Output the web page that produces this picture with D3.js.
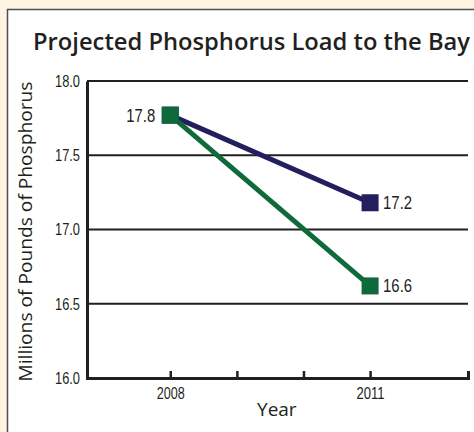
<!DOCTYPE html>
<html>
<head>
<meta charset="utf-8">
<script src="https://d3js.org/d3.v7.min.js"></script>
<style>
  body { margin: 0; background: #fdf5e1; }
  svg { display: block; }
</style>
</head>
<body>
<div id="chart"></div>
<script>
// data
const years = [2008, 2011];
const seriesNames = ["current", "projected"];
const currentLoad = [17.77, 17.18];
const projectedLoad = [17.77, 16.62];
const yTicks = [16.0, 16.5, 17.0, 17.5, 18.0];
const xTicks = [2008, 2009, 2010, 2011];
const xTickLabels = ["2008", "", "", "2011"];
const colors = ["#231f5f", "#0e6a3a"];

const W = 474, H = 432;
const margin = {top: 81, right: 6, bottom: 54, left: 87};
const width = W - margin.left - margin.right,
    height = H - margin.top - margin.bottom;

const svg = d3.select("#chart").append("svg")
    .attr("width", W)
    .attr("height", H);

// panel
svg.append("rect")
    .attr("x", 7.5).attr("y", 9.5)
    .attr("width", W).attr("height", H)
    .attr("fill", "#fff")
    .attr("stroke", "#4d4d4f")
    .attr("stroke-width", 1.5);

svg.append("text")
    .attr("x", 33).attr("y", 50)
    .attr("font-family", "'Open Sans', sans-serif")
    .attr("font-weight", 600)
    .attr("font-size", 22.5)
    .attr("textLength", 437)
    .attr("lengthAdjust", "spacingAndGlyphs")
    .attr("fill", "#231f20")
    .text("Projected Phosphorus Load to the Bay");

const g = svg.append("g")
    .attr("transform", "translate(" + margin.left + "," + margin.top + ")");

let x = d3.scaleLinear()
    .domain([2006.75, 2012.47])
    .range([0, width]);

let y = d3.scaleLinear()
    .domain([16, 18])
    .range([height, 0]);

const narrow = "'Liberation Sans', sans-serif";

// squeeze a text horizontally to a target width so it looks condensed
function condense(sel, w) {
    sel.attr("textLength", w).attr("lengthAdjust", "spacingAndGlyphs");
}

// gridlines
g.append("g")
    .selectAll("line")
    .data(yTicks.filter(d => d > 16))
    .enter().append("line")
    .attr("x1", 0).attr("x2", width)
    .attr("y1", d => y(d)).attr("y2", d => y(d))
    .attr("stroke", "#231f20")
    .attr("stroke-width", 2);

// y axis
let yAxis = d3.axisLeft(y).tickValues(yTicks).tickSize(0).tickPadding(7)
    .tickFormat(d3.format(".1f"));
let ya = g.append("g").call(yAxis);
ya.select(".domain").attr("stroke", "#231f20").attr("stroke-width", 3);
ya.selectAll("text")
    .attr("font-family", narrow)
    .attr("font-size", 16.5)
    .attr("fill", "#231f20")
    .call(condense, 25);

// x axis, ticks point up
let xAxis = d3.axisBottom(x).tickValues(xTicks)
    .tickSizeInner(-7).tickSizeOuter(-7).tickPadding(10)
    .tickFormat((d, i) => xTickLabels[i]);
let xa = g.append("g")
    .attr("transform", "translate(0," + height + ")")
    .call(xAxis);
xa.select(".domain").attr("stroke", "#231f20").attr("stroke-width", 3);
xa.selectAll(".tick line").attr("stroke", "#231f20").attr("stroke-width", 2.5);
xa.selectAll(".tick text")
    .filter(d => xTickLabels[xTicks.indexOf(d)] !== "")
    .attr("font-family", narrow)
    .attr("font-size", 16)
    .attr("fill", "#231f20")
    .call(condense, 28);

// axis titles
svg.append("text")
    .attr("transform", "translate(32," + (margin.top + height / 2 + 2) + ") rotate(-90)")
    .attr("text-anchor", "middle")
    .attr("font-family", "'Open Sans', sans-serif")
    .attr("font-size", 17.5)
    .attr("textLength", 300)
    .attr("lengthAdjust", "spacingAndGlyphs")
    .attr("fill", "#231f20")
    .text("Millions of Pounds of Phosphorus");

svg.append("text")
    .attr("x", margin.left + x(2009.6)).attr("y", 416)
    .attr("text-anchor", "middle")
    .attr("font-family", "'Open Sans', sans-serif")
    .attr("font-size", 19)
    .attr("fill", "#231f20")
    .text("Year");

// lines and markers
const series = [currentLoad, projectedLoad];
const line = d3.line()
    .x((d, i) => x(years[i]))
    .y(d => y(d));

series.forEach(function (vals, s) {
    g.append("path")
        .attr("d", line(vals))
        .attr("fill", "none")
        .attr("stroke", colors[s])
        .attr("stroke-width", 5);
});

const sq = 17;
series.forEach(function (vals, s) {
    g.selectAll(".m" + s)
        .data(vals)
        .enter().append("rect")
        .attr("class", "m" + s)
        .attr("x", (d, i) => x(years[i]) - sq / 2)
        .attr("y", d => y(d) - sq / 2)
        .attr("width", sq).attr("height", sq)
        .attr("fill", colors[s]);
});

// value labels
const fmt = d3.format(".1f");
g.append("text")
    .attr("class", "vlab")
    .attr("x", x(years[0]) - 15).attr("y", y(currentLoad[0]) + 6.5)
    .attr("text-anchor", "end")
    .text(fmt(currentLoad[0]));
series.forEach(function (vals, s) {
    g.append("text")
        .attr("class", "vlab")
        .attr("x", x(years[1]) + 13).attr("y", y(vals[1]) + 6.5)
        .text(fmt(vals[1]));
});
g.selectAll(".vlab")
    .attr("font-family", narrow).attr("font-size", 18).attr("fill", "#231f20")
    .call(condense, 29);
</script>
</body>
</html>
